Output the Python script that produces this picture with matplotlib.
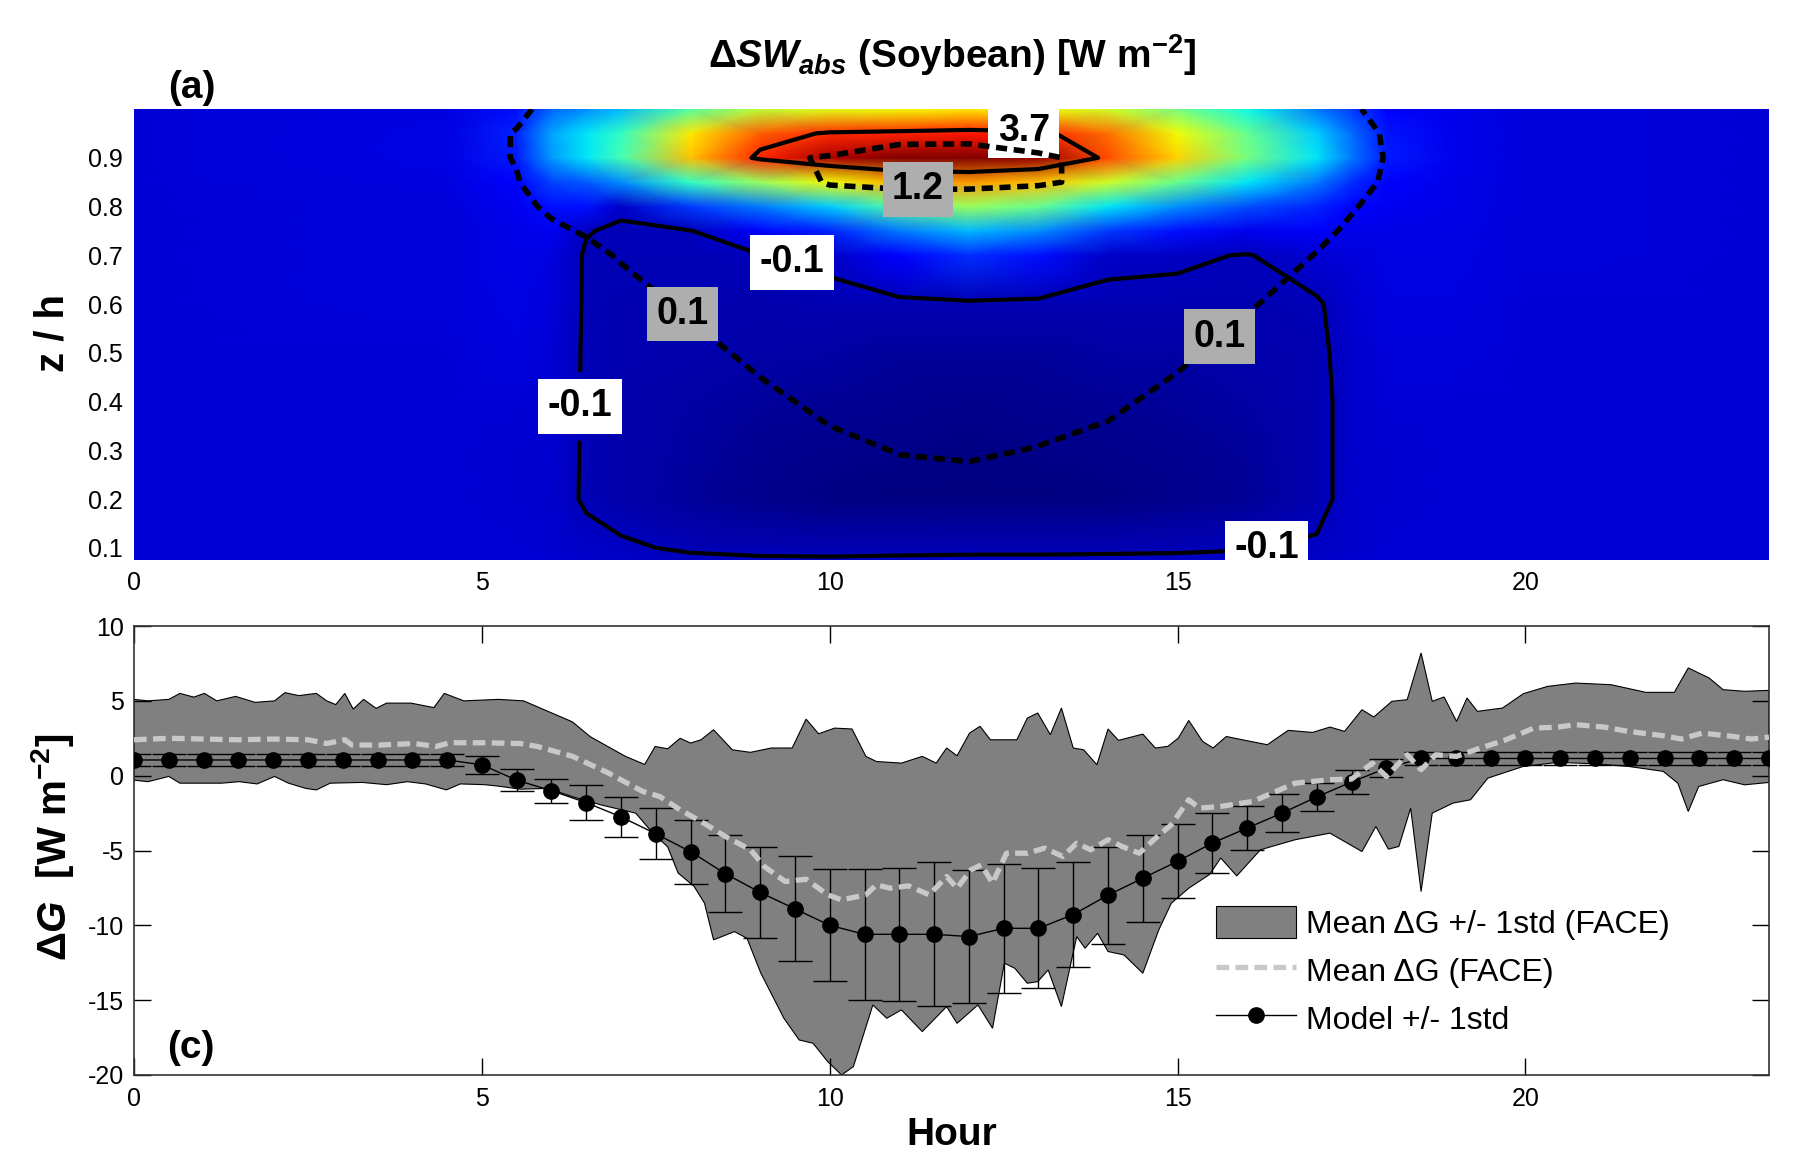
import numpy as np
import matplotlib
matplotlib.use("Agg")
import matplotlib.pyplot as plt

plt.rcParams['font.family'] = ['Liberation Sans', 'DejaVu Sans']
plt.rcParams['axes.unicode_minus'] = False
plt.rcParams['mathtext.fontset'] = 'custom'
plt.rcParams['mathtext.rm'] = 'Liberation Sans:bold'
plt.rcParams['mathtext.it'] = 'Liberation Sans:italic:bold'
plt.rcParams['mathtext.bf'] = 'Liberation Sans:bold'

# ---- (a) absorbed shortwave change through the canopy ----
grid_hours = [0, 4.5, 5.5, 6, 6.5, 7, 8, 9, 10, 11, 12, 13, 14, 15, 16, 17, 17.5, 18, 19, 20, 23.5]
grid_zh = [0.075, 0.1, 0.2, 0.3, 0.4, 0.5, 0.6, 0.7, 0.75, 0.8, 0.85, 0.9, 0.95, 1.0]

# one list per hour, canopy bottom -> top (shaded, solid contours)
dsw_abs = [
    [0, 0, 0, 0, 0, 0, 0, 0, 0, 0, 0, 0, 0, 0],
    [0, 0, 0, 0, 0, 0.01, 0.02, 0.03, 0.03, 0.03, 0.04, 0.05, 0.05, 0.04],
    [0, 0, -0.01, -0.01, 0.01, 0.04, 0.06, 0.07, 0.08, 0.12, 0.2, 0.35, 0.4, 0.3],
    [0, -0.02, -0.03, -0.02, -0.01, 0, 0.02, 0.04, 0.12, 0.3, 0.55, 0.95, 1.0, 0.7],
    [-0.03, -0.05, -0.12, -0.12, -0.12, -0.12, -0.12, -0.12, -0.09, 0.3, 0.65, 1.3, 1.3, 0.9],
    [-0.05, -0.08, -0.16, -0.16, -0.16, -0.15, -0.14, -0.13, -0.13, -0.06, 0.9, 1.7, 1.6, 1.1],
    [-0.07, -0.12, -0.24, -0.22, -0.2, -0.17, -0.15, -0.13, -0.11, 0.5, 1.6, 3.0, 2.8, 1.8],
    [-0.08, -0.14, -0.3, -0.27, -0.23, -0.19, -0.16, -0.11, 0.2, 0.8, 2.2, 3.8, 3.5, 2.4],
    [-0.08, -0.15, -0.33, -0.3, -0.26, -0.21, -0.15, -0.06, 0.4, 1.2, 2.7, 4.2, 3.75, 2.6],
    [-0.07, -0.15, -0.35, -0.32, -0.28, -0.23, -0.15, 0.2, 0.8, 1.8, 3.1, 4.4, 3.8, 2.7],
    [-0.06, -0.15, -0.36, -0.33, -0.29, -0.24, -0.14, 0.45, 1.1, 2.2, 3.2, 4.4, 3.85, 2.8],
    [-0.06, -0.15, -0.35, -0.32, -0.28, -0.23, -0.15, 0.3, 0.9, 1.9, 3.0, 4.3, 3.8, 2.7],
    [-0.06, -0.14, -0.33, -0.3, -0.26, -0.21, -0.15, -0.05, 0.5, 1.3, 2.5, 3.6, 3.4, 2.5],
    [-0.06, -0.13, -0.3, -0.27, -0.24, -0.2, -0.15, -0.07, 0.3, 0.9, 1.9, 2.9, 2.7, 2.0],
    [-0.06, -0.11, -0.25, -0.23, -0.2, -0.17, -0.14, -0.11, 0.1, 0.6, 1.3, 2.0, 1.9, 1.4],
    [-0.05, -0.08, -0.15, -0.15, -0.15, -0.14, -0.12, 0.0, 0.15, 0.4, 0.8, 1.3, 1.2, 0.8],
    [-0.02, -0.03, -0.04, -0.04, -0.04, -0.03, -0.02, 0.02, 0.08, 0.2, 0.45, 0.8, 0.75, 0.5],
    [0, 0, -0.01, -0.01, 0, 0.02, 0.04, 0.06, 0.08, 0.12, 0.22, 0.35, 0.33, 0.25],
    [0, 0, 0, 0, 0, 0.02, 0.04, 0.05, 0.06, 0.07, 0.08, 0.1, 0.1, 0.08],
    [0, 0, 0, 0, 0, 0, 0.01, 0.02, 0.02, 0.02, 0.02, 0.03, 0.03, 0.02],
    [0, 0, 0, 0, 0, 0, 0, 0, 0, 0, 0, 0, 0, 0],
]

# second profile, drawn as dashed contours only
dsw_abs_dashed = [
    [0, 0, 0, 0, 0, 0, 0, 0, 0, 0, 0, 0, 0, 0],
    [0, 0, 0, 0, 0, 0, 0, 0, 0, 0, 0, 0, 0, 0],
    [0, 0, 0, 0, 0, 0, 0.01, 0.03, 0.05, 0.07, 0.09, 0.11, 0.11, 0.06],
    [0, 0, 0, 0, 0.01, 0.02, 0.03, 0.05, 0.08, 0.12, 0.2, 0.3, 0.3, 0.15],
    [0, 0, 0, 0.01, 0.02, 0.03, 0.05, 0.07, 0.11, 0.2, 0.35, 0.5, 0.5, 0.3],
    [0, 0, 0.01, 0.02, 0.03, 0.04, 0.05, 0.11, 0.18, 0.3, 0.5, 0.7, 0.7, 0.45],
    [0, 0, 0.01, 0.02, 0.04, 0.06, 0.12, 0.22, 0.3, 0.45, 0.7, 0.95, 0.9, 0.6],
    [0, 0.01, 0.02, 0.04, 0.07, 0.13, 0.2, 0.3, 0.4, 0.6, 0.9, 1.15, 1.1, 0.7],
    [0, 0.01, 0.03, 0.07, 0.13, 0.2, 0.28, 0.4, 0.55, 0.9, 1.24, 1.22, 1.0, 0.8],
    [0.01, 0.02, 0.05, 0.105, 0.16, 0.23, 0.32, 0.5, 0.7, 0.95, 1.3, 1.38, 1.05, 0.8],
    [0.01, 0.02, 0.05, 0.115, 0.17, 0.24, 0.33, 0.52, 0.72, 0.95, 1.3, 1.4, 1.05, 0.8],
    [0.01, 0.02, 0.05, 0.095, 0.15, 0.22, 0.3, 0.48, 0.68, 0.9, 1.25, 1.25, 1.0, 0.75],
    [0, 0.01, 0.03, 0.07, 0.12, 0.19, 0.27, 0.4, 0.55, 0.8, 1.1, 1.1, 0.95, 0.7],
    [0, 0.01, 0.02, 0.04, 0.07, 0.12, 0.2, 0.3, 0.4, 0.55, 0.75, 0.85, 0.75, 0.55],
    [0, 0, 0.01, 0.02, 0.04, 0.06, 0.11, 0.18, 0.25, 0.35, 0.5, 0.6, 0.55, 0.4],
    [0, 0, 0, 0.01, 0.02, 0.03, 0.05, 0.095, 0.13, 0.2, 0.28, 0.33, 0.3, 0.22],
    [0, 0, 0, 0, 0.01, 0.02, 0.03, 0.05, 0.08, 0.11, 0.16, 0.2, 0.18, 0.12],
    [0, 0, 0, 0, 0, 0.01, 0.02, 0.03, 0.04, 0.06, 0.08, 0.09, 0.08, 0.05],
    [0, 0, 0, 0, 0, 0, 0, 0, 0, 0, 0, 0, 0, 0],
    [0, 0, 0, 0, 0, 0, 0, 0, 0, 0, 0, 0, 0, 0],
    [0, 0, 0, 0, 0, 0, 0, 0, 0, 0, 0, 0, 0, 0],
]

solid_levels = [-0.1, 3.7]
dashed_levels = [0.1, 1.2]
solid_label_at = [(12.79, 0.945), (9.39, 0.66), (6.45, 0.39), (16.27, 0.11)]
dashed_label_at = [(11.27, 0.846), (7.89, 0.58), (15.59, 0.536)]

# ---- (c) soil heat flux change ----
model_hours = np.arange(0, 24, 0.5)
model_dg = [1.05, 1.05, 1.05, 1.05, 1.05, 1.05, 1.05, 1.05, 1.05, 1.05,
            0.73, -0.3, -1.0, -1.8, -2.75, -3.88, -5.08, -6.55, -7.8, -8.9,
            -10.0, -10.6, -10.6, -10.6, -10.75, -10.2, -10.2, -9.28, -7.98, -6.85,
            -5.72, -4.5, -3.5, -2.5, -1.42, -0.42, 0.5, 1.15, 1.15, 1.15,
            1.15, 1.15, 1.15, 1.15, 1.15, 1.15, 1.15, 1.15]
model_std = [0.4, 0.4, 0.4, 0.4, 0.4, 0.4, 0.4, 0.4, 0.4, 0.4,
             0.6, 0.72, 0.8, 1.19, 1.32, 1.69, 2.14, 2.56, 3.04, 3.51,
             3.74, 4.39, 4.46, 4.82, 4.44, 4.31, 4.02, 3.49, 3.24, 2.92,
             2.46, 1.98, 1.46, 1.25, 0.91, 0.81, 0.62, 0.42, 0.41, 0.41,
             0.41, 0.41, 0.41, 0.41, 0.41, 0.41, 0.41, 0.41]

face_upper_hr = [0, 0.2, 0.5, 0.66, 0.86, 1.01, 1.19, 1.46, 1.74, 2.02, 2.17, 2.37, 2.62, 2.77,
                 2.9, 3.03, 3.15, 3.3, 3.48, 3.63, 3.98, 4.31, 4.46, 4.74, 5.24, 5.6, 5.85, 6.3,
                 6.56, 7.06, 7.34, 7.49, 7.67, 7.85, 8.0, 8.15, 8.33, 8.6, 8.86, 9.16, 9.46, 9.66,
                 9.84, 10.07, 10.32, 10.52, 10.67, 11.03, 11.33, 11.53, 11.68, 11.83, 12.01, 12.16,
                 12.31, 12.69, 12.84, 12.99, 13.17, 13.33, 13.5, 13.65, 13.84, 14.0, 14.15, 14.5,
                 14.68, 14.86, 15.01, 15.16, 15.36, 15.51, 15.7, 15.93, 16.29, 16.59, 16.94, 17.19,
                 17.4, 17.65, 17.82, 18.08, 18.3, 18.5, 18.66, 18.83, 19.01, 19.16, 19.31, 19.67,
                 19.97, 20.32, 20.72, 21.23, 21.73, 22.14, 22.34, 22.64, 22.84, 23.15, 23.5]
face_upper = [5.1, 5.0, 5.1, 5.5, 5.25, 5.5, 5.0, 5.3, 4.9, 5.0, 5.55, 5.35, 5.5, 5.0,
              4.75, 5.5, 4.45, 5.1, 4.5, 4.85, 4.85, 4.55, 5.5, 5.0, 5.1, 5.0, 4.5, 3.6,
              2.6, 1.3, 0.75, 1.95, 1.8, 2.5, 2.18, 2.4, 3.07, 1.73, 1.56, 1.85, 1.85, 3.78,
              2.8, 3.18, 3.12, 1.29, 0.95, 0.84, 1.29, 0.84, 1.85, 1.33, 2.85, 3.3,
              2.4, 2.4, 3.85, 4.19, 2.74, 4.52, 1.85, 1.73, 0.73, 3.12, 2.36, 2.78,
              1.85, 1.96, 2.51, 3.69, 2.29, 1.85, 2.62, 2.4, 2.07, 3.03, 2.89, 3.25,
              2.96, 4.41, 3.92, 4.97, 5.08, 8.2, 4.97, 5.26, 3.63, 5.19, 4.3, 4.52,
              5.48, 5.97, 6.19, 6.08, 5.57, 5.57, 7.2, 6.53, 5.75, 5.64, 5.7]

face_lower_hr = [0, 0.2, 0.5, 0.66, 1.26, 1.51, 1.77, 2.02, 2.22, 2.47, 2.62, 2.82, 3.28, 3.63,
                 3.93, 4.19, 4.49, 4.69, 5.04, 5.24, 5.55, 5.95, 6.3, 6.71, 7.21, 7.46, 7.67, 7.82,
                 8.05, 8.2, 8.33, 8.63, 8.81, 9.01, 9.34, 9.56, 9.76, 9.97, 10.17, 10.34, 10.62,
                 10.82, 11.03, 11.33, 11.68, 11.83, 12.13, 12.34, 12.51, 12.66, 12.84, 12.99, 13.14,
                 13.33, 13.55, 13.67, 13.85, 14.0, 14.23, 14.5, 14.73, 14.91, 15.16, 15.46, 15.62,
                 15.85, 16.19, 16.69, 17.19, 17.65, 17.85, 18.03, 18.18, 18.35, 18.5, 18.66, 18.96,
                 19.21, 19.46, 19.97, 20.47, 20.98, 21.48, 21.98, 22.19, 22.34, 22.49, 22.84, 23.15,
                 23.5]
face_lower = [-0.3, -0.4, -0.05, -0.5, -0.5, -0.4, -0.55, -0.05, -0.5, -0.85, -0.95, -0.5, -0.45, -0.6,
              -0.4, -0.55, -0.95, -0.55, -0.6, -0.7, -0.9, -0.85, -1.4, -1.95, -2.5, -3.85, -4.75, -6.5,
              -7.4, -8.52, -10.97, -10.42, -10.86, -13.2, -16.2, -17.66, -17.88, -19.1, -20.0, -19.44, -15.32,
              -16.21, -15.65, -17.1, -15.43, -16.55, -15.32, -16.88, -12.53, -12.87, -13.87, -13.76, -12.98,
              -15.43, -10.75, -11.53, -10.53, -11.75, -11.98, -13.2, -10.3, -8.52, -7.52, -6.6, -5.5,
              -6.7, -4.95, -4.28, -3.84, -5.07, -3.39, -4.91, -4.73, -2.17, -7.74, -2.5, -1.83,
              -1.61, -0.16, 0.62, 0.89, 0.8, 0.62, 0.29, -0.5, -2.39, -0.72, -0.27, -0.61,
              -0.45]

face_mean_hr = [0, 0.5, 1.0, 1.5, 2.0, 2.5, 2.77, 3.03, 3.13, 3.53, 4.03, 4.34, 4.54, 5.04, 5.55,
                5.8, 6.3, 6.81, 7.31, 7.56, 7.85, 8.15, 8.5, 8.86, 9.06, 9.36, 9.66, 9.97, 10.17,
                10.52, 10.67, 10.87, 11.13, 11.43, 11.68, 11.83, 12.03, 12.18, 12.34, 12.54, 12.84,
                13.09, 13.35, 13.55, 13.75, 14.0, 14.2, 14.45, 14.71, 14.91, 15.16, 15.31, 15.61,
                16.08, 16.69, 17.19, 17.5, 17.8, 18.0, 18.3, 18.5, 18.71, 19.01, 19.31, 19.72,
                20.12, 20.47, 20.72, 21.13, 21.48, 21.98, 22.24, 22.54, 22.99, 23.25, 23.5]
face_mean = [2.4, 2.5, 2.45, 2.4, 2.45, 2.4, 2.15, 2.4, 2.05, 2.05, 2.15, 1.95, 2.2, 2.2, 2.15,
             1.95, 1.3, 0.2, -1.05, -1.4, -2.28, -3.06, -4.06, -4.95, -6.07, -7.07, -6.92, -7.96, -8.3,
             -7.96, -7.29, -7.52, -7.36, -7.96, -6.74, -7.52, -6.29, -5.96, -7.18, -5.18, -5.18,
             -4.84, -5.4, -4.51, -4.95, -4.28, -4.73, -5.18, -4.06, -3.28, -1.61, -2.17, -2.06,
             -1.72, -0.5, -0.27, -0.23, 0.84, -0.05, 1.4, 0.4, 1.4, 1.29, 1.78, 2.4,
             3.18, 3.25, 3.41, 3.25, 2.96, 2.67, 2.45, 2.85, 2.62, 2.45, 2.58]

fig = plt.figure(figsize=(17.99, 11.60), dpi=100)
ax1 = fig.add_axes([0.0745, 0.5172, 0.9088, 0.3888])
ax2 = fig.add_axes([0.0745, 0.0733, 0.9088, 0.3870])

# ---- panel (a) ----
hh, zz = np.meshgrid(grid_hours, grid_zh)
sw = np.array(dsw_abs).T
sw2 = np.array(dsw_abs_dashed).T
ax1.pcolormesh(hh, zz, sw, shading='gouraud', cmap='jet', vmin=-0.36, vmax=4.4)

cs_solid = ax1.contour(grid_hours, grid_zh, sw, levels=solid_levels, colors='k',
                       linewidths=3.0, linestyles='solid')
cs_dash = ax1.contour(grid_hours, grid_zh, sw2, levels=dashed_levels, colors='k',
                      linewidths=4.0, linestyles=[(0, (2.0, 1.2))], zorder=3.5)

lbl = ax1.clabel(cs_solid, fmt='%.1f', manual=solid_label_at, inline=True,
                 inline_spacing=2, fontsize=27)
for t in lbl:
    t.set_rotation(0)
    t.set_fontweight('bold')
    t.set_zorder(3)
    t.set_bbox(dict(boxstyle='square,pad=0.25', fc='white', ec='none'))
lbl = ax1.clabel(cs_dash, fmt='%.1f', manual=dashed_label_at, inline=True,
                 inline_spacing=2, fontsize=27)
for t in lbl:
    t.set_rotation(0)
    t.set_fontweight('bold')
    t.set_zorder(4)
    t.set_bbox(dict(boxstyle='square,pad=0.25', fc='#aeaeae', ec='none'))

ax1.set_xlim(0, 23.5)
ax1.set_ylim(0.075, 1.0)
ax1.set_xticks([0, 5, 10, 15, 20])
ax1.set_yticks([0.1, 0.2, 0.3, 0.4, 0.5, 0.6, 0.7, 0.8, 0.9])
ax1.tick_params(length=0, labelsize=18, pad=8)
for sp in ax1.spines.values():
    sp.set_visible(False)
ax1.set_ylabel('z / h', fontsize=29, fontweight='bold', va='center')
ax1.yaxis.set_label_coords(-0.05, 0.503)

fig.text(0.529, 0.9526, r'Δ$\mathit{SW}_{\mathit{abs}}$ (Soybean) [W m$^{-2}$]',
         fontsize=28, fontweight='bold', ha='center', va='center')
fig.text(0.1065, 0.924, '(a)', fontsize=28, fontweight='bold', ha='center', va='center')

# ---- panel (c) ----
band = ax2.fill(np.concatenate([face_upper_hr, face_lower_hr[::-1]]),
                np.concatenate([face_upper, face_lower[::-1]]),
                facecolor='#808080', edgecolor='black', linewidth=0.8, zorder=1)[0]
ax2.errorbar(model_hours, model_dg, yerr=model_std, fmt='none', ecolor='black',
             elinewidth=1.0, capsize=12, capthick=1.0, zorder=3)
model_line, = ax2.plot(model_hours, model_dg, '-', color='black', lw=1.0, marker='o',
                       ms=11, mfc='black', mec='black', zorder=4)
mean_line, = ax2.plot(face_mean_hr, face_mean, color='#c8c8c8', lw=3.8,
                      linestyle=(0, (2.4, 1.2)), zorder=5)

ax2.set_xlim(0, 23.5)
ax2.set_ylim(-20, 10)
ax2.set_xticks([0, 5, 10, 15, 20])
ax2.set_yticks([-20, -15, -10, -5, 0, 5, 10])
ax2.tick_params(direction='in', length=12, width=1, labelsize=18, top=True, right=True)
ax2.tick_params(axis='x', pad=9)
ax2.tick_params(axis='y', pad=7)
for sp in ax2.spines.values():
    sp.set_linewidth(1.2)
    sp.set_color('#333333')

ax2.set_ylabel(r'Δ$\mathit{G}$  [W m$^{-2}$]', fontsize=29, fontweight='bold', va='center')
ax2.yaxis.set_label_coords(-0.05, 0.508)
ax2.set_xlabel('Hour', fontsize=28, fontweight='bold', va='center')
ax2.xaxis.set_label_coords(0.5, -0.1335)
ax2.text(0.035, 0.061, '(c)', transform=ax2.transAxes, fontsize=28, fontweight='bold',
         ha='center', va='center')

ax2.legend([band, mean_line, model_line],
           ['Mean ΔG +/- 1std (FACE)', 'Mean ΔG (FACE)', 'Model +/- 1std'],
           loc='upper left', bbox_to_anchor=(0.662, 0.377), frameon=False, fontsize=23,
           handlelength=2.5, handleheight=1.2, handletextpad=0.3, labelspacing=0.43,
           borderpad=0, borderaxespad=0)

fig.savefig('out.png', dpi=100)
